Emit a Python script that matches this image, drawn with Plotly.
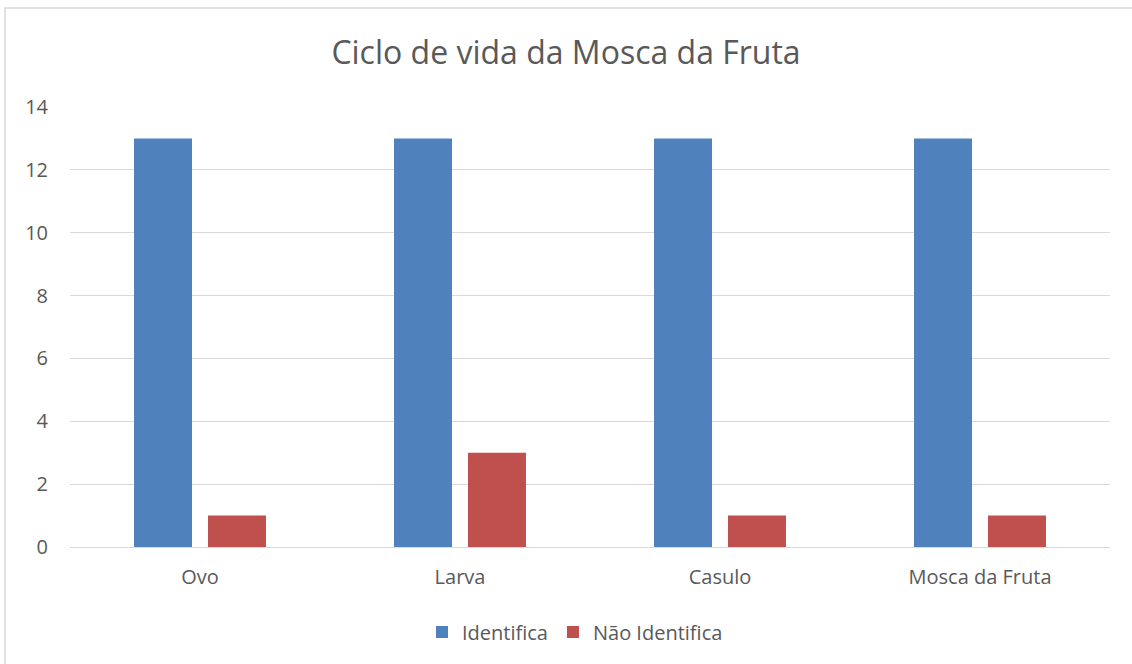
import plotly.graph_objects as go

categories = ["Ovo", "Larva", "Casulo", "Mosca da Fruta"]
identifica = [13, 13, 13, 13]
nao_identifica = [1, 3, 1, 1]
y_ticks = [0, 2, 4, 6, 8, 10, 12, 14]

FONT = "Open Sans, Liberation Sans, sans-serif"
TXT = "#595959"

fig = go.Figure()
fig.add_trace(go.Bar(x=categories, y=identifica, name="Identifica",
                     marker=dict(color="#4F81BD", line=dict(width=0))))
fig.add_trace(go.Bar(x=categories, y=nao_identifica, name="Não Identifica",
                     marker=dict(color="#C0504D", line=dict(width=0))))

fig.update_layout(
    width=1132, height=664,
    paper_bgcolor="white", plot_bgcolor="white",
    margin=dict(l=70, r=22, t=107, b=117, autoexpand=False),
    barmode="group", bargap=0.431, bargroupgap=0.216,
    title=dict(text="Ciclo de vida da Mosca da Fruta", x=0.5, xanchor="center",
               y=1 - 53/664, yanchor="middle",
               font=dict(family=FONT, size=32, color=TXT)),
    font=dict(family=FONT, size=20, color=TXT),
    xaxis=dict(showgrid=False, showline=True, linecolor="#d9d9d9", linewidth=1,
               ticks="", tickfont=dict(size=20, color=TXT), ticklabelstandoff=12),
    yaxis=dict(range=[0, 14], tickvals=y_ticks, showgrid=True, gridcolor="#d9d9d9",
               gridwidth=1, zeroline=False, showline=False, ticks="",
               tickfont=dict(size=20, color=TXT), ticklabelstandoff=21),
    legend=dict(orientation="h", x=0.5 - 15/1040, xanchor="center", y=(664-632)/664,
                yanchor="middle", yref="container",
                font=dict(size=20, color=TXT), itemwidth=30),
    showlegend=True,
)
fig.add_shape(type="rect", xref="paper", yref="paper",
              x0=-65/1040, x1=1.1, y0=-0.5, y1=1 + 99/440,
              line=dict(color="#d9d9d9", width=1.5), fillcolor="rgba(0,0,0,0)",
              layer="below")
fig.write_html("out.html", config={"displayModeBar": False})

with open("out.html", encoding="utf-8") as f:
    html = f.read()
html = html.replace("<head>", "<head><style>html,body{margin:0;padding:0;}</style>", 1)
with open("out.html", "w", encoding="utf-8") as f:
    f.write(html)
